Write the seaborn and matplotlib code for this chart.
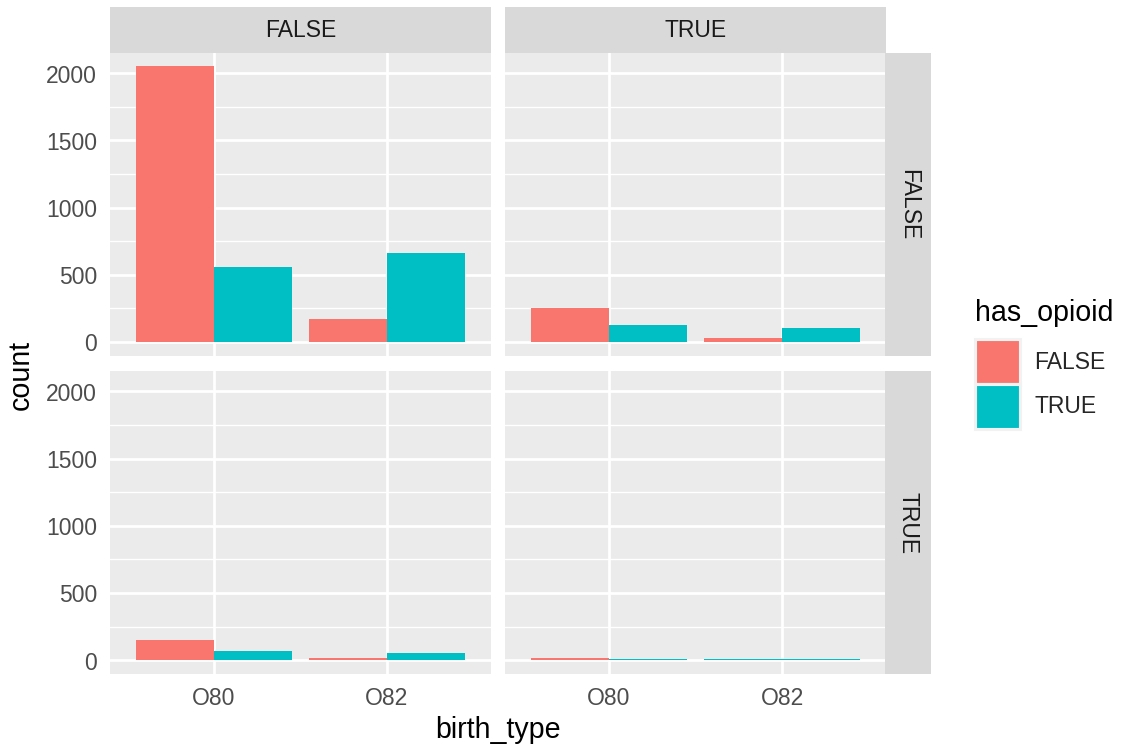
import matplotlib
matplotlib.use("Agg")
import matplotlib.pyplot as plt
from matplotlib.patches import Patch
from matplotlib.ticker import MultipleLocator
import pandas as pd
import seaborn as sns

birth_types = ["O80", "O82"]
opioid_levels = ["FALSE", "TRUE"]
col_levels = ["FALSE", "TRUE"]
row_levels = ["FALSE", "TRUE"]

# counts per panel, order: O80/FALSE, O80/TRUE, O82/FALSE, O82/TRUE
counts_row_false_col_false = [2050, 555, 170, 660]
counts_row_false_col_true = [252, 126, 30, 104]
counts_row_true_col_false = [153, 72, 14, 57]
counts_row_true_col_true = [14, 7, 0, 7]

panel_counts = {
    ("FALSE", "FALSE"): counts_row_false_col_false,
    ("FALSE", "TRUE"): counts_row_false_col_true,
    ("TRUE", "FALSE"): counts_row_true_col_false,
    ("TRUE", "TRUE"): counts_row_true_col_true,
}

rows = []
for (r, c), vals in panel_counts.items():
    i = 0
    for bt in birth_types:
        for op in opioid_levels:
            rows.append({"row": r, "col": c, "birth_type": bt,
                         "has_opioid": op, "count": vals[i]})
            i += 1
df = pd.DataFrame(rows)

palette = {"FALSE": "#F8766D", "TRUE": "#00BFC4"}

sns.set_style("white")
plt.rcParams["font.family"] = ["Liberation Sans", "DejaVu Sans"]

W, H = 1123, 749
DPI = 187.2
fig = plt.figure(figsize=((W + 0.4) / DPI, (H + 0.4) / DPI), dpi=DPI)

def fx(px):
    return px / W

def fy(py):
    return 1 - py / H

panel_x = [110, 505]
panel_w = 380.5
panel_y = [53, 371]
panel_h = 303

ymax = df["count"].max()

for ri, r in enumerate(row_levels):
    for ci, c in enumerate(col_levels):
        x0 = panel_x[ci]
        y0 = panel_y[ri]
        ax = fig.add_axes([fx(x0), fy(y0 + panel_h), panel_w / W, panel_h / H])
        ax.set_facecolor("#EBEBEB")
        sub = df[(df["row"] == r) & (df["col"] == c) & (df["count"] > 0)]
        # dodge like ggplot: a lone group fills the whole slot
        for bt in birth_types:
            g = sub[sub["birth_type"] == bt]
            if g.empty:
                continue
            present = [o for o in opioid_levels if o in set(g["has_opioid"])]
            sns.barplot(data=g, x="birth_type", y="count", hue="has_opioid",
                        order=birth_types, hue_order=present, palette=palette,
                        width=0.9, dodge=True, saturation=1, errorbar=None,
                        legend=False, linewidth=0, ax=ax)
        ax.set_xlim(-0.6, 1.6)
        ax.set_ylim(-0.05 * ymax, 1.05 * ymax)
        ax.set_yticks([0, 500, 1000, 1500, 2000])
        ax.yaxis.set_minor_locator(MultipleLocator(250))
        ax.set_xticks([0, 1])
        ax.set_axisbelow(True)
        ax.grid(which="major", color="white", linewidth=1.07)
        ax.grid(which="minor", axis="y", color="white", linewidth=0.53)
        for s in ax.spines.values():
            s.set_visible(False)
        ax.set_xlabel("")
        ax.set_ylabel("")
        ax.tick_params(which="minor", length=0)
        ax.tick_params(which="major", length=2.75, width=1.07, color="#333333",
                       labelsize=8.8, labelcolor="#4D4D4D", pad=2.2)
        if ri == 0:
            ax.tick_params(axis="x", bottom=False, labelbottom=False)
        else:
            ax.set_xticklabels(birth_types)
        if ci == 1:
            ax.tick_params(axis="y", left=False, labelleft=False)

        # column strips
        if ri == 0:
            sax = fig.add_axes([fx(x0), fy(53), panel_w / W, 46 / H])
            sax.set_facecolor("#D9D9D9")
            sax.set_xticks([])
            sax.set_yticks([])
            for s in sax.spines.values():
                s.set_visible(False)
            sax.text(0.5, 0.5, c, ha="center", va="center", fontsize=8.8,
                     color="#1A1A1A", transform=sax.transAxes)
        # row strips
        if ci == 1:
            rax = fig.add_axes([fx(885), fy(y0 + panel_h), 45.7 / W, panel_h / H])
            rax.set_facecolor("#D9D9D9")
            rax.set_xticks([])
            rax.set_yticks([])
            for s in rax.spines.values():
                s.set_visible(False)
            rax.text(0.5, 0.5, r, ha="center", va="center", fontsize=8.8,
                     color="#1A1A1A", rotation=-90, transform=rax.transAxes)

fig.text(fx(21), fy(375), "count", rotation=90, ha="center", va="center",
         fontsize=11, color="black")
fig.text(fx(497.5), fy(730), "birth_type", ha="center", va="center",
         fontsize=11, color="black")

# legend: title as its own text so the gap to the keys matches ggplot
fig.text(fx(975), fy(313), "has_opioid", ha="left", va="center",
         fontsize=11, color="black")
handles = [Patch(facecolor=palette[o], edgecolor="#F2F2F2", linewidth=1.2)
           for o in opioid_levels]
fig.legend(handles=handles, labels=opioid_levels,
           loc="upper left", bbox_to_anchor=(fx(975), fy(339)),
           frameon=False, fontsize=8.8,
           handlelength=17.28 / 8.8, handleheight=2.644,
           handletextpad=5.5 / 8.8, labelspacing=0, borderpad=0,
           borderaxespad=0)

fig.savefig("out.png", dpi=DPI)
